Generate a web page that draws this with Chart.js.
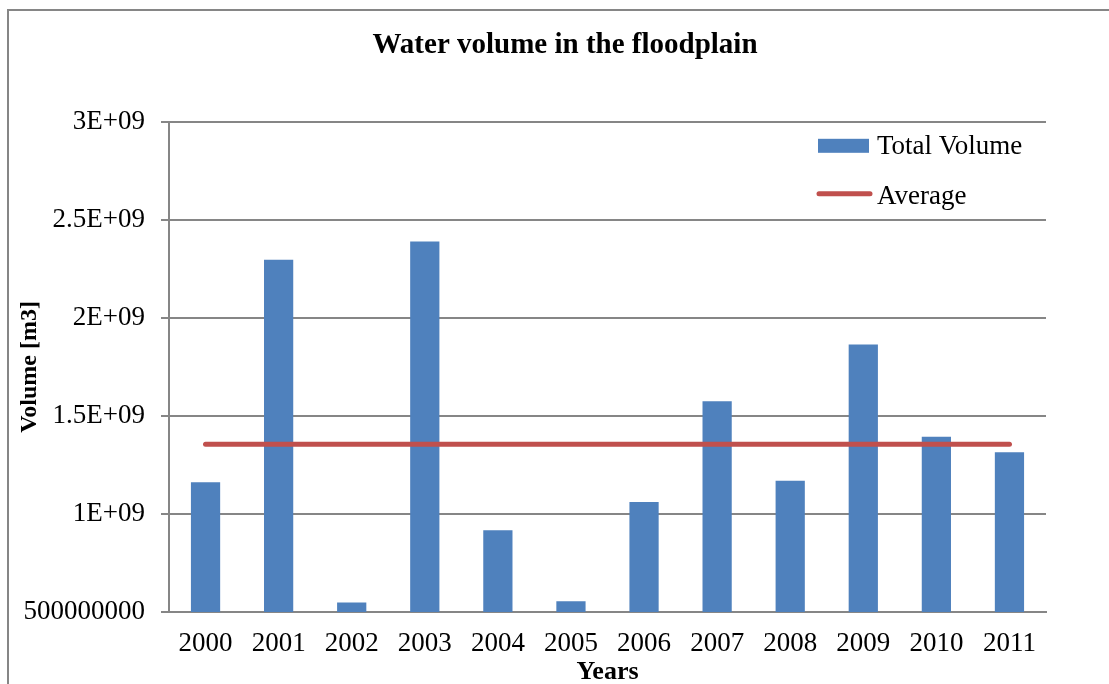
<!DOCTYPE html>
<html>
<head>
<meta charset="utf-8">
<title>Water volume in the floodplain</title>
<script src="https://cdn.jsdelivr.net/npm/chart.js@4/dist/chart.umd.min.js"></script>
<style>
  html, body { margin: 0; padding: 0; background: #ffffff; overflow: hidden; }
  #wrap { position: relative; width: 1130px; height: 684px; }
</style>
</head>
<body>
<div id="wrap"><canvas id="chart"></canvas></div>
<script>
// Yearly water volume stored in the floodplain (m3)
const years = ['2000', '2001', '2002', '2003', '2004', '2005', '2006', '2007', '2008', '2009', '2010', '2011'];
const totalVolume = [1.162e9, 2.297e9, 0.548e9, 2.389e9, 0.917e9, 0.555e9, 1.061e9, 1.575e9, 1.170e9, 1.864e9, 1.394e9, 1.315e9];
const averageVolume = [1.356e9, 1.356e9, 1.356e9, 1.356e9, 1.356e9, 1.356e9, 1.356e9, 1.356e9, 1.356e9, 1.356e9, 1.356e9, 1.356e9];
const yTickValues = [5e8, 1e9, 1.5e9, 2e9, 2.5e9, 3e9];
const yTickLabels = ['500000000', '1E+09', '1.5E+09', '2E+09', '2.5E+09', '3E+09'];
const seriesNames = ['Total Volume', 'Average'];

const FONT = "'Liberation Serif', 'Times New Roman', serif";
const GRID = '#868686';
const BLUE = '#4F81BD';
const RED = '#C0504D';

// Outer frame of the chart object (only its left and top edges fall inside the page)
const framePlugin = {
  id: 'frame',
  beforeDraw(chart) {
    const ctx = chart.ctx;
    ctx.save();
    ctx.strokeStyle = GRID;
    ctx.lineWidth = 2;
    ctx.strokeRect(8, 10, chart.width + 40, chart.height + 40);
    ctx.restore();
  }
};

// Legend drawn inside the plot area, top-right
const insideLegend = {
  id: 'insideLegend',
  afterDraw(chart) {
    const ctx = chart.ctx;
    const area = chart.chartArea;
    const x0 = area.right - 228;
    const row1 = area.top + 24;
    const row2 = area.top + 72;
    ctx.save();
    ctx.fillStyle = BLUE;
    ctx.fillRect(x0, row1 - 7, 51, 14);
    ctx.strokeStyle = RED;
    ctx.lineWidth = 5;
    ctx.lineCap = 'round';
    ctx.beginPath();
    ctx.moveTo(x0 + 1, row2);
    ctx.lineTo(x0 + 52, row2);
    ctx.stroke();
    ctx.fillStyle = '#000000';
    ctx.font = '27px ' + FONT;
    ctx.textBaseline = 'middle';
    ctx.textAlign = 'left';
    ctx.fillText(seriesNames[0], x0 + 59, row1 + 1);
    ctx.fillText(seriesNames[1], x0 + 59, row2 + 3);
    ctx.restore();
  }
};

new Chart(document.getElementById('chart'), {
  data: {
    labels: years,
    datasets: [
      {
        type: 'line',
        label: seriesNames[1],
        data: averageVolume,
        borderColor: RED,
        backgroundColor: RED,
        borderWidth: 5,
        borderCapStyle: 'round',
        pointRadius: 0,
        fill: false,
        order: 0
      },
      {
        type: 'bar',
        label: seriesNames[0],
        data: totalVolume,
        backgroundColor: BLUE,
        barPercentage: 0.4,
        categoryPercentage: 1.0,
        order: 1
      }
    ]
  },
  options: {
    responsive: true,
    maintainAspectRatio: false,
    animation: false,
    layout: { padding: 0 },
    plugins: {
      legend: { display: false },
      tooltip: { enabled: false },
      title: {
        display: true,
        text: 'Water volume in the floodplain',
        color: '#000000',
        font: { family: FONT, size: 29, weight: 'bold' },
        padding: { top: 28, bottom: 59 }
      }
    },
    scales: {
      x: {
        grid: { display: false, drawTicks: false },
        border: { display: true, color: GRID, width: 2 },
        ticks: {
          color: '#000000',
          font: { family: FONT, size: 27 },
          padding: 16,
          maxRotation: 0
        },
        title: {
          display: true,
          text: 'Years',
          color: '#000000',
          font: { family: FONT, size: 26, weight: 'bold' },
          padding: { top: 0, bottom: -4 }
        },
        afterFit(scale) { scale.height = 72; }
      },
      y: {
        min: yTickValues[0],
        max: yTickValues[yTickValues.length - 1],
        afterBuildTicks(scale) {
          scale.ticks = yTickValues.map(v => ({ value: v }));
        },
        grid: { color: GRID, lineWidth: 2, drawTicks: true, tickLength: 8 },
        border: { display: true, color: GRID, width: 2 },
        ticks: {
          color: '#000000',
          font: { family: FONT, size: 27 },
          padding: 16,
          callback(value) {
            const i = yTickValues.indexOf(value);
            return i >= 0 ? yTickLabels[i] : '';
          }
        },
        title: {
          display: true,
          text: 'Volume [m3]',
          color: '#000000',
          font: { family: FONT, size: 24, weight: 'bold' },
          padding: { top: 15, bottom: 0 }
        },
        afterFit(scale) { scale.width = 169; }
      },
      // empty right-hand margin of the plot area
      rightMargin: {
        type: 'linear',
        position: 'right',
        display: true,
        grid: { display: false, drawTicks: false },
        border: { display: false },
        ticks: { display: false },
        afterFit(scale) { scale.width = 84; }
      }
    }
  },
  plugins: [framePlugin, insideLegend]
});
</script>
</body>
</html>
